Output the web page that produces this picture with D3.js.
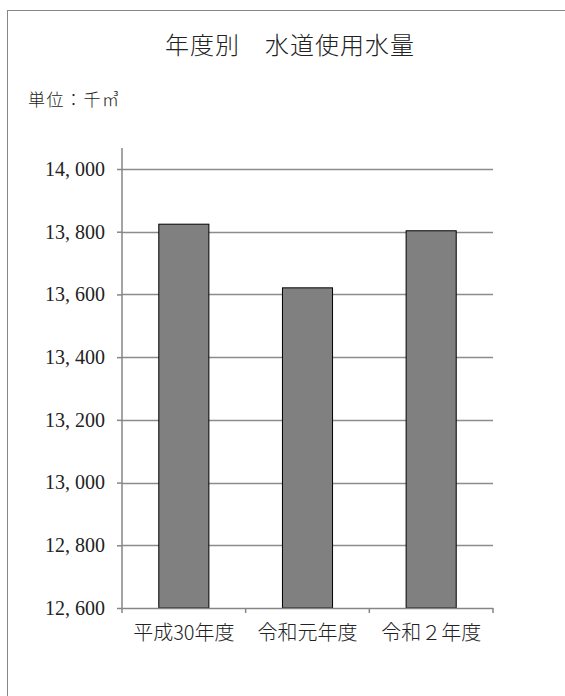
<!DOCTYPE html>
<html>
<head>
<meta charset="utf-8">
<script src="https://cdn.jsdelivr.net/npm/d3@7"></script>
<style>
  body { margin: 0; background: #fff; }
  .num { font-family: "Liberation Serif", "DejaVu Serif", "Times New Roman", serif; }
  .jp { font-family: "Noto Sans CJK JP", "Noto Sans", sans-serif; font-weight: 300; }
</style>
</head>
<body>
<div class="chart"></div>
<script>
// data
const categories = ['平成30年度', '令和元年度', '令和２年度'];
const values = [13824, 13621, 13803];
const yTicks = [12600, 12800, 13000, 13200, 13400, 13600, 13800, 14000];
const title = '年度別　水道使用水量';
const unitLabel = '単位：千㎥';

const W = 565;
const H = 696;
const margin = { top: 169, right: 72, bottom: 88, left: 122 };
const width = W - margin.left - margin.right;
const height = 439;

const svg = d3.select('.chart')
  .append('svg')
  .attr('width', W)
  .attr('height', H);

// outer frame (runs off right/bottom)
svg.append('rect')
  .attr('x', 7.5)
  .attr('y', 10.5)
  .attr('width', W + 10)
  .attr('height', H + 10)
  .attr('fill', 'none')
  .attr('stroke', '#868686')
  .attr('stroke-width', 1);

svg.append('text')
  .attr('class', 'jp')
  .attr('x', 290)
  .attr('y', 54)
  .attr('text-anchor', 'middle')
  .attr('fill', '#222')
  .style('font-size', '24px')
  .style('letter-spacing', '1px')
  .text(title);

svg.append('text')
  .attr('class', 'jp')
  .attr('x', 28)
  .attr('y', 106)
  .attr('fill', '#222')
  .style('font-size', '17px')
  .style('letter-spacing', '1.5px')
  .text(unitLabel);

const g = svg.append('g')
  .attr('transform', `translate(${margin.left},${margin.top})`);

const x = d3.scaleBand()
  .domain(categories)
  .range([0, width])
  .padding(0);

const y = d3.scaleLinear()
  .domain([12600, 14000])
  .range([height, 0]);

// gridlines
g.selectAll('.grid')
  .data(yTicks.slice(1))
  .enter()
  .append('line')
  .attr('x1', 0)
  .attr('x2', width)
  .attr('y1', (d) => Math.round(y(d)) + 0.5)
  .attr('y2', (d) => Math.round(y(d)) + 0.5)
  .attr('stroke', '#8c8c8c')
  .attr('stroke-width', 1.5);

// bars
const barW = x.bandwidth() * 0.405;
g.selectAll('.bar')
  .data(values)
  .enter()
  .append('rect')
  .attr('x', (d, i) => x(categories[i]) + (x.bandwidth() - barW) / 2)
  .attr('y', (d) => y(d))
  .attr('width', barW)
  .attr('height', (d) => height - y(d))
  .attr('fill', '#808080')
  .attr('stroke', '#000')
  .attr('stroke-width', 1);

// y axis
const fmt = d3.format(',');
const yAxis = g.append('g')
  .call(d3.axisLeft(y)
    .tickValues(yTicks)
    .tickSize(5)
    .tickPadding(12)
    .tickFormat((d) => fmt(d).replace(',', ', ')));
yAxis.attr('font-family', null).attr('font-size', null);
yAxis.select('.domain')
  .attr('stroke', '#868686')
  .attr('stroke-width', 1.5)
  .attr('d', `M0,${148 - margin.top}V${height + 5}`);
yAxis.selectAll('.tick line').attr('stroke', '#868686').attr('stroke-width', 1.5);
yAxis.selectAll('.tick text')
  .attr('class', 'num')
  .style('font-size', '20px')
  .attr('fill', '#222');

// x axis
const xAxis = g.append('g')
  .attr('transform', `translate(0,${height})`)
  .call(d3.axisBottom(x).tickSize(0).tickPadding(18));
xAxis.attr('font-family', null).attr('font-size', null);
xAxis.select('.domain')
  .attr('stroke', '#868686')
  .attr('stroke-width', 1.5)
  .attr('d', `M0,0.5H${width}`);
xAxis.selectAll('.tick text')
  .attr('class', 'jp')
  .style('font-size', '20px')
  .attr('fill', '#222');

// x tick marks at band edges
g.selectAll('.xtick')
  .data(categories.slice(1).concat(['end']))
  .enter()
  .append('line')
  .attr('x1', (d) => (d === 'end' ? width : x(d)))
  .attr('x2', (d) => (d === 'end' ? width : x(d)))
  .attr('y1', height)
  .attr('y2', height + 5)
  .attr('stroke', '#868686')
  .attr('stroke-width', 1.5);
</script>
</body>
</html>
